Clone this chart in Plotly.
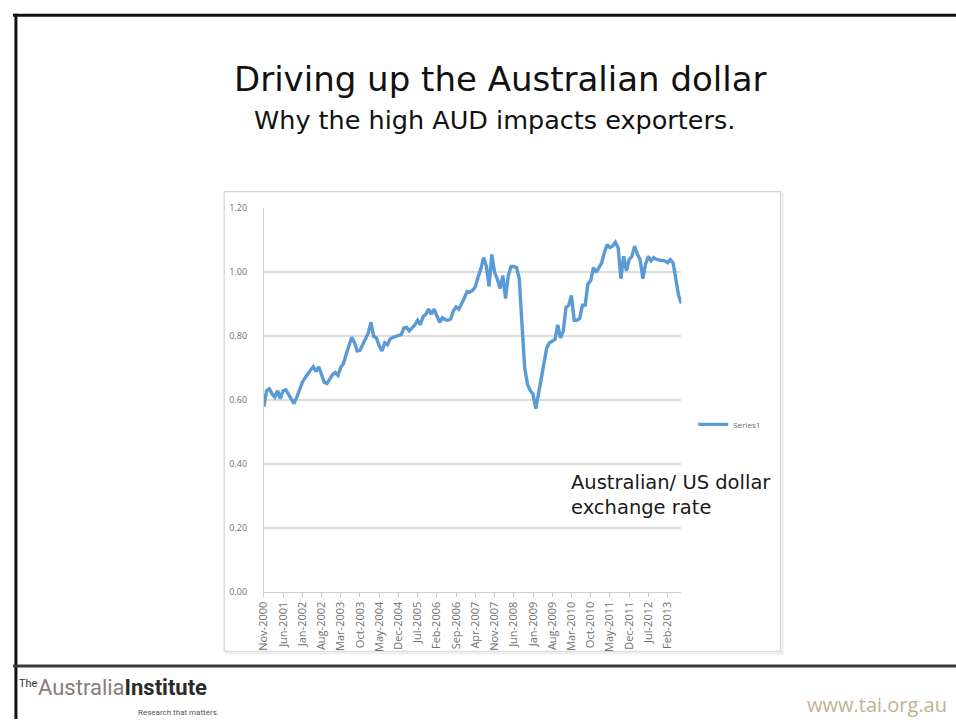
import pandas as pd
import plotly.graph_objects as go

# Monthly AUD/USD exchange rate, Nov-2000 to Jul-2013
start_month = "2000-11-01"
aud_usd = [
    0.580, 0.630, 0.636, 0.620, 0.610, 0.630, 0.605, 0.630, 0.633, 0.620,
    0.605, 0.590, 0.610, 0.635, 0.656, 0.670, 0.684, 0.695, 0.705, 0.690,
    0.705, 0.677, 0.656, 0.653, 0.665, 0.680, 0.687, 0.678, 0.703, 0.715,
    0.745, 0.774, 0.797, 0.780, 0.754, 0.756, 0.775, 0.795, 0.810, 0.844,
    0.800, 0.795, 0.770, 0.754, 0.780, 0.774, 0.792, 0.797, 0.800, 0.803,
    0.805, 0.826, 0.828, 0.817, 0.825, 0.836, 0.850, 0.836, 0.862, 0.869,
    0.885, 0.869, 0.885, 0.865, 0.844, 0.858, 0.852, 0.850, 0.854, 0.879,
    0.892, 0.885, 0.900, 0.920, 0.940, 0.938, 0.943, 0.955, 0.985, 1.010,
    1.046, 1.020, 0.956, 1.056, 1.000, 0.980, 0.949, 0.990, 0.918, 0.990,
    1.018, 1.018, 1.015, 0.980, 0.836, 0.700, 0.650, 0.630, 0.620, 0.574,
    0.620, 0.672, 0.723, 0.764, 0.780, 0.785, 0.790, 0.836, 0.795, 0.815,
    0.890, 0.897, 0.928, 0.850, 0.850, 0.856, 0.897, 0.897, 0.964, 0.974,
    1.015, 1.000, 1.015, 1.030, 1.062, 1.087, 1.077, 1.082, 1.094, 1.077,
    0.980, 1.050, 1.005, 1.040, 1.050, 1.082, 1.056, 1.040, 0.980, 1.026,
    1.050, 1.036, 1.046, 1.040, 1.038, 1.038, 1.036, 1.030, 1.040, 1.030,
    0.980, 0.928, 0.903,
]
months = pd.date_range(start_month, periods=len(aud_usd), freq="MS").strftime("%b-%Y").tolist()
tick_labels = months[::7]
y_ticks = [0.0, 0.2, 0.4, 0.6, 0.8, 1.0, 1.2]

W, H = 956, 725


def fx(x):
    return x / W


def fy(y):
    return 1 - y / H


fig = go.Figure()
fig.add_trace(go.Scatter(
    x=months, y=aud_usd, mode="lines", name="Series1",
    line=dict(color="#5B9BD5", width=3.4),
))

fig.update_layout(
    width=W, height=H, autosize=False,
    margin=dict(l=0, r=0, t=0, b=0),
    paper_bgcolor="white", plot_bgcolor="white",
    showlegend=True,
    legend=dict(
        x=fx(691), y=fy(425), xanchor="left", yanchor="middle",
        font=dict(family="Open Sans, sans-serif", size=8, color="#6a6a6a"),
        bgcolor="rgba(0,0,0,0)", itemwidth=30,
    ),
    xaxis=dict(
        domain=[fx(258), fx(679)],
        type="category", range=[0, len(aud_usd) - 1],
        tickmode="array", tickvals=tick_labels, ticktext=tick_labels,
        tickangle=-90, tickfont=dict(family="Open Sans, sans-serif", size=11, color="#707070"),
        ticks="outside", ticklen=4, tickcolor="#c8c8c8",
        showline=True, linecolor="#d0d0d0", linewidth=1,
        showgrid=False, zeroline=False,
    ),
    yaxis=dict(
        domain=[fy(596), fy(205)],
        range=[0, 1.2], tickvals=y_ticks, tickformat=".2f",
        tickfont=dict(family="Open Sans, sans-serif", size=9, color="#707070"),
        ticklabelstandoff=14,
        showline=True, linecolor="#d0d0d0", linewidth=1,
        showgrid=True, gridcolor="#dcdcdc", gridwidth=1.5,
        zeroline=False, ticks="", ticklen=0,
    ),
)

shapes = [
    # chart frame with a faint drop shadow
    dict(type="rect", xref="paper", yref="paper",
         x0=fx(220), x1=fx(781), y0=fy(658), y1=fy(190),
         line=dict(color="#ececec", width=2), fillcolor="rgba(0,0,0,0)", layer="below"),
    dict(type="rect", xref="paper", yref="paper",
         x0=fx(218), x1=fx(779), y0=fy(656), y1=fy(188),
         line=dict(color="#d4d4d4", width=1.2), fillcolor="white", layer="below"),
    # slide border
    dict(type="line", xref="paper", yref="paper",
         x0=fx(5), x1=1, y0=fy(8.5), y1=fy(8.5), line=dict(color="#111111", width=3)),
    dict(type="line", xref="paper", yref="paper",
         x0=fx(8), x1=fx(8), y0=fy(7), y1=0, line=dict(color="#111111", width=3)),
    # footer rule
    dict(type="line", xref="paper", yref="paper",
         x0=fx(5), x1=1, y0=fy(671), y1=fy(671), line=dict(color="#3a3a3a", width=3)),
]
fig.update_layout(shapes=shapes)

text_font = "DejaVu Sans, sans-serif"
logo_font = "Roboto, sans-serif"
logo = "<span style='color:#8a7d78'>Australia</span><b>Institute</b>"
annotations = [
    dict(text="Driving up the Australian dollar", x=fx(497), y=fy(73),
         font=dict(family=text_font, size=34, color="#111111")),
    dict(text="Why the high AUD impacts exporters.", x=fx(491), y=fy(115),
         font=dict(family=text_font, size=25.5, color="#111111")),
    dict(text="Australian/ US dollar<br>exchange rate", x=fx(566), y=fy(497),
         xanchor="left", align="left",
         font=dict(family=text_font, size=19.5, color="#1a1a1a")),
    # footer logo
    dict(text="The", x=fx(9), y=fy(689), xanchor="left",
         font=dict(family=logo_font, size=11, color="#333333")),
    dict(text=logo, x=fx(28), y=fy(693), xanchor="left",
         font=dict(family=logo_font, size=22, color="#2a2a2a")),
    dict(text="Research that matters.", x=fx(215), y=fy(718), xanchor="right",
         font=dict(family=logo_font, size=8, color="#555555")),
    dict(text="www.tai.org.au", x=fx(804), y=fy(710), xanchor="left",
         font=dict(family="Open Sans, sans-serif", size=20, color="#c4b08f")),
]
for a in annotations:
    a.setdefault("xanchor", "center")
    a.update(xref="paper", yref="paper", yanchor="middle", showarrow=False)
fig.update_layout(annotations=annotations)

fig.write_html("out.html")
